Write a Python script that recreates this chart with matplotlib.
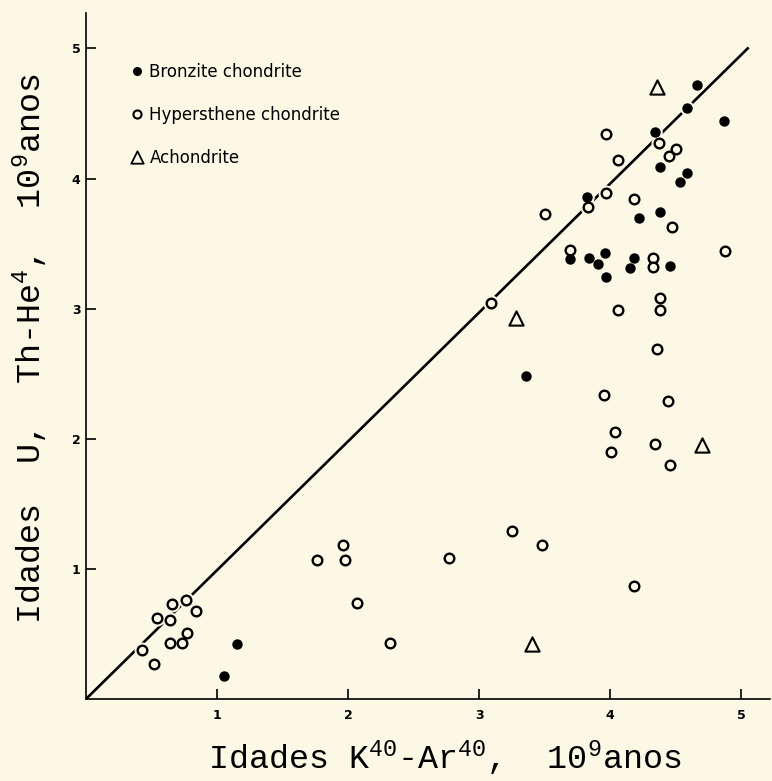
import matplotlib
matplotlib.use("Agg")
import matplotlib.pyplot as plt

# idades K-Ar (x) e U,Th-He (y), em 10^9 anos
bronz_x = [1.05, 1.155, 3.36, 3.69, 3.84, 3.91, 3.96, 3.97, 4.18, 4.15, 4.46,
           3.82, 4.22, 4.38, 4.53, 4.59, 4.38, 4.34, 4.59, 4.66, 4.87]
bronz_y = [0.18, 0.42, 2.48, 3.38, 3.39, 3.34, 3.43, 3.24, 3.39, 3.31, 3.33,
           3.86, 3.70, 3.74, 3.97, 4.04, 4.09, 4.36, 4.54, 4.72, 4.44]

hyper_x = [0.43, 0.52, 0.54, 0.64, 0.66, 0.76, 0.84, 0.64, 0.73, 0.77,
           1.76, 1.96, 1.98, 2.07, 2.32, 2.77, 3.25, 3.48, 4.18,
           3.09, 4.06, 4.38, 4.38, 4.36, 3.95, 4.44, 4.04, 4.01, 4.34, 4.46,
           3.69, 4.33, 4.33, 4.88, 3.50, 3.83, 3.97, 4.18, 4.47, 3.97, 4.37,
           4.50, 4.45, 4.06]
hyper_y = [0.38, 0.27, 0.62, 0.61, 0.73, 0.76, 0.68, 0.43, 0.43, 0.51,
           1.07, 1.18, 1.07, 0.74, 0.43, 1.08, 1.29, 1.18, 0.87,
           3.04, 2.99, 3.08, 2.99, 2.69, 2.34, 2.29, 2.05, 1.90, 1.96, 1.80,
           3.45, 3.39, 3.32, 3.44, 3.73, 3.78, 3.89, 3.84, 3.63, 4.34, 4.27,
           4.23, 4.17, 4.14]

achon_x = [3.28, 3.40, 4.70, 4.36]
achon_y = [2.93, 0.42, 1.95, 4.70]

# reta de concordancia
diag_x = [0, 5.05]
diag_y = [0, 5.0]

ticks = [1, 2, 3, 4, 5]

bg = "#fcf8e6"
plt.rcParams["mathtext.fontset"] = "custom"
plt.rcParams["mathtext.rm"] = "Liberation Mono"
plt.rcParams["mathtext.it"] = "Liberation Mono"

fig = plt.figure(figsize=(7.72, 7.81), dpi=100, facecolor=bg)
ax = fig.add_axes([0.1114, 0.105, 0.886, 0.878], facecolor=bg)

ax.plot(diag_x, diag_y, color="black", lw=1.9, zorder=1)

# halo da cor do fundo (interrompe a reta junto dos pontos)
ax.scatter(bronz_x, bronz_y, s=90, color=bg, zorder=2)
ax.scatter(hyper_x, hyper_y, s=110, color=bg, zorder=2)
ax.scatter(bronz_x, bronz_y, s=42, color="black", zorder=3)
ax.scatter(hyper_x, hyper_y, s=48, facecolor=bg, edgecolor="black",
           linewidths=1.7, zorder=3)
ax.scatter(achon_x, achon_y, s=105, marker="^", facecolor=bg,
           edgecolor="black", linewidths=1.5, zorder=3)

# legenda
h1 = ax.scatter([], [], s=30, color="black", label="Bronzite chondrite")
h2 = ax.scatter([], [], s=34, facecolor=bg, edgecolor="black", linewidths=1.5,
                label="Hypersthene chondrite")
h3 = ax.scatter([], [], s=80, marker="^", facecolor=bg, edgecolor="black",
                linewidths=1.3, label="Achondrite")
ax.legend(handles=[h1, h2, h3], loc="upper left", bbox_to_anchor=(0.055, 0.94),
          frameon=False, prop={"family": "DejaVu Sans", "size": 12},
          handlelength=0.6, handletextpad=0.45, labelspacing=1.5,
          borderpad=0, scatteryoffsets=[0.5])

ax.set_xlim(0, 5.22)
ax.set_ylim(0, 5.27)
ax.set_xticks(ticks)
ax.set_yticks(ticks)
ax.tick_params(direction="in", length=7, width=1.2, labelsize=9)
ax.tick_params(axis="x", pad=7)
ax.tick_params(axis="y", pad=4)
for lab in ax.get_xticklabels() + ax.get_yticklabels():
    lab.set_fontweight("bold")
    lab.set_family("DejaVu Sans")

for s in ["top", "right"]:
    ax.spines[s].set_visible(False)
for s in ["left", "bottom"]:
    ax.spines[s].set_linewidth(1.2)

ax.set_xlabel(r"Idades K$^{40}$-Ar$^{40}$,  10$^{9}$anos",
              family="Liberation Mono", fontsize=24)
ax.xaxis.set_label_coords(0.525, -0.058)
ax.set_ylabel(r"Idades  U,  Th-He$^{4}$,  10$^{9}$anos",
              family="Liberation Mono", fontsize=24)
ax.yaxis.set_label_coords(-0.052, 0.51)

fig.savefig("out.png", dpi=100, facecolor=bg)
